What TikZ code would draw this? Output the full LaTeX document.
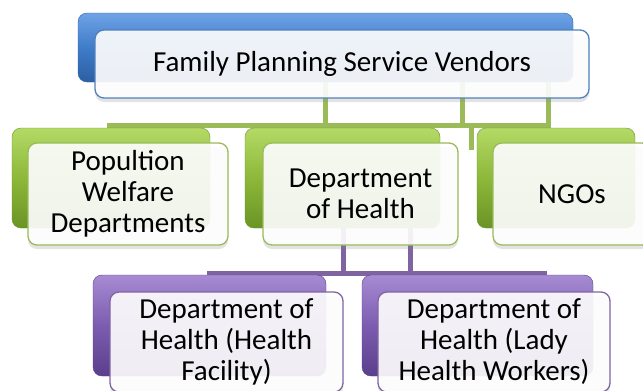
\documentclass[tikz,border=0pt]{standalone}
\usepackage{fontspec}
\setmainfont{Carlito}
\usetikzlibrary{shadows}
\definecolor{bluE}{HTML}{4F81BD}
\definecolor{blueTop}{HTML}{6FA3E6}
\definecolor{blueMid}{HTML}{3F7CC8}
\definecolor{blueBot}{HTML}{2C5FA3}
\definecolor{greeN}{HTML}{9BBB59}
\definecolor{greenTop}{HTML}{B4DA66}
\definecolor{greenMid}{HTML}{8DB83A}
\definecolor{greenBot}{HTML}{6A9425}
\definecolor{purplE}{HTML}{8064A2}
\definecolor{purpleTop}{HTML}{A78BD3}
\definecolor{purpleMid}{HTML}{7C5CB0}
\definecolor{purpleBot}{HTML}{5A3F8C}
\begin{document}
\begin{tikzpicture}[x=1pt,y=-1pt,
  backbox/.style={rounded corners=9pt, inner sep=0pt, draw=#1Bot, line width=0.4pt,
    top color=#1Top, bottom color=#1Bot, middle color=#1Mid},
  frontbox/.style={rounded corners=9pt, inner sep=0pt, draw=#1, line width=1.3pt,
    fill=white, fill opacity=0.9, text opacity=1, align=center,
    font=\fontsize{29}{31}\selectfont,
    drop shadow={shadow xshift=0pt, shadow yshift=-4pt, opacity=0.22}},
  gline/.style={greeN, line width=5pt},
  pline/.style={purplE, line width=5pt}]
\clip (0,0) rectangle (643,391);
\fill[white] (0,0) rectangle (643,391);
% connector coordinates
\coordinate (gA) at (325,82);
\coordinate (gB) at (462,82);
\coordinate (gC) at (548,82);
\coordinate (gL) at (107,125);
\coordinate (gS) at (471,150);
\coordinate (pA) at (343,200);
\coordinate (pB) at (410,200);
\coordinate (pL) at (207,273);
\coordinate (pR) at (547,273);
% green connectors
\draw[gline] (gL) -- (gL -| gC) -- (gC);
\draw[gline] (gA) -- (gA |- gL);
\draw[gline] (gB) -- (gB |- gL);
\draw[gline] (gS |- gL) -- (gS);
% purple connectors
\draw[pline] (pL) -- (pR);
\draw[pline] (pA) -- (pA |- pL);
\draw[pline] (pB) -- (pB |- pL);
% back boxes
\node[backbox=blue, minimum width=495pt, minimum height=69pt] (topb) at (325.5,47.5) {};
\node[backbox=green, minimum width=198pt, minimum height=100pt] (g1b) at (111,178) {};
\node[backbox=green, minimum width=195pt, minimum height=100pt] (g2b) at (342.5,178) {};
\node[backbox=green, minimum width=158pt, minimum height=100pt] (g3b) at (556,178) {};
\node[backbox=purple, minimum width=233pt, minimum height=101pt] (p1b) at (209.5,325.5) {};
\node[backbox=purple, minimum width=231pt, minimum height=101pt] (p2b) at (477.5,325.5) {};
% front boxes
\node[frontbox=bluE, minimum width=494pt, minimum height=68pt] (top) at (342,64) {Family Planning Service Vendors};
\node[frontbox=greeN, minimum width=200pt, minimum height=102pt] (g1) at (128,194) {Popultion\\Welfare\\Departments};
\node[frontbox=greeN, minimum width=195pt, minimum height=102pt] (g2) at (360.5,194) {Department\\of Health};
\node[frontbox=greeN, minimum width=158pt, minimum height=102pt] (g3) at (572,194) {NGOs};
\node[frontbox=purplE, minimum width=233pt, minimum height=100pt] (p1) at (226.5,342) {Department of\\Health (Health\\Facility)};
\node[frontbox=purplE, minimum width=232pt, minimum height=100pt] (p2) at (494,342) {Department of\\Health (Lady\\Health Workers)};
\end{tikzpicture}
\end{document}
